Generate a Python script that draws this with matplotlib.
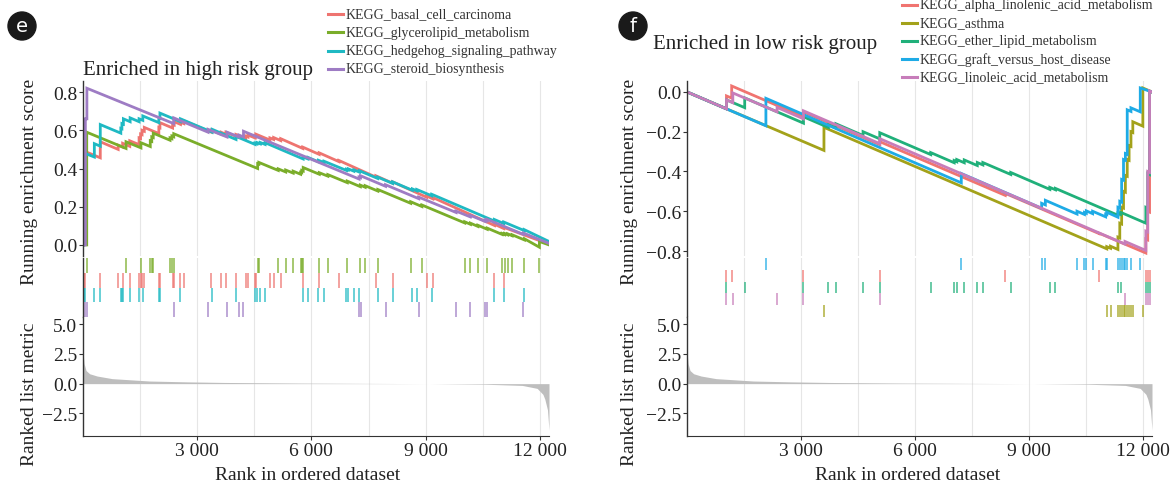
import numpy as np
import matplotlib
matplotlib.use("Agg")
import matplotlib.pyplot as plt
from matplotlib.lines import Line2D
from matplotlib.patches import Ellipse

plt.rcParams['font.family'] = ['Liberation Serif', 'DejaVu Serif']

W, H = 1175, 489
N_GENES = 12240

# ---------------- ranked list metric (shared gene ranking) ----------------
metric_rank = [0, 30, 80, 175, 370, 765, 1745, 2725, 3700, 5660, 7620, 9100,
               10560, 11540, 11930, 12080, 12130, 12200, 12240]
metric_val = [2.67, 1.67, 1.1, 0.83, 0.64, 0.42, 0.22, 0.15, 0.1, 0.05, 0.02, 0.0,
              -0.05, -0.15, -0.4, -0.9, -1.3, -2.2, -3.9]

# ---------------- panel e : high risk group ----------------
high_names = ["KEGG_basal_cell_carcinoma", "KEGG_glycerolipid_metabolism",
              "KEGG_hedgehog_signaling_pathway", "KEGG_steroid_biosynthesis"]
high_colors = ["#EE7470", "#7AAD2A", "#1FB9C3", "#9E7CC4"]

basal_hits = [20, 43, 454, 924, 1041, 1228, 1473, 1512, 1551, 1610, 1992, 2021, 2354, 2394,
              2560, 2648, 3373, 3628, 3755, 4019, 4274, 4333, 4519, 4538, 4910, 5008, 5194,
              5772, 6203, 6722, 7692, 8133, 9024, 9190, 10806, 11051]
basal_es_x = [0, 20, 20, 43, 43, 454, 454, 924, 924, 1041, 1041, 1228, 1228, 1473, 1473, 1512,
              1512, 1551, 1551, 1610, 1610, 1992, 1992, 2021, 2021, 2354, 2354, 2394, 2394,
              2560, 2560, 2648, 2648, 3373, 3373, 3628, 3628, 3755, 3755, 4019, 4019, 4274,
              4274, 4333, 4333, 4519, 4519, 4538, 4538, 4910, 4910, 5008, 5008, 5194, 5194,
              5772, 5772, 6203, 6203, 6722, 6722, 7692, 7692, 8133, 8133, 9024, 9024, 9190,
              9190, 10806, 10806, 11051, 11051, 12240]
basal_es_y = [0, 0, 0.25, 0.248, 0.49, 0.456, 0.54, 0.5, 0.522, 0.512, 0.532, 0.516, 0.545,
              0.525, 0.56, 0.557, 0.58, 0.577, 0.6, 0.595, 0.615, 0.583, 0.615, 0.613, 0.64,
              0.612, 0.63, 0.627, 0.645, 0.631, 0.642, 0.635, 0.65, 0.59, 0.6, 0.579, 0.59,
              0.579, 0.59, 0.568, 0.578, 0.557, 0.57, 0.565, 0.575, 0.56, 0.57, 0.568, 0.58,
              0.549, 0.56, 0.552, 0.562, 0.546, 0.556, 0.505, 0.512, 0.474, 0.482, 0.436,
              0.442, 0.355, 0.362, 0.323, 0.33, 0.25, 0.256, 0.241, 0.248, 0.102, 0.108,
              0.086, 0.092, 0.004]

glycero_hits = [98, 1130, 1522, 1767, 1806, 1845, 2286, 2335, 2384, 4588, 4618, 5128, 5324,
                5520, 5716, 5745, 5784, 6206, 6431, 6941, 7284, 7411, 7744, 8607, 8901, 10027,
                10175, 10371, 10616, 11008, 11076, 11155, 11272, 11596, 11988]
glycero_es_x = [0, 98, 98, 1130, 1130, 1522, 1522, 1767, 1767, 1806, 1806, 1845, 1845, 2286,
                2286, 2335, 2335, 2384, 2384, 4588, 4588, 4618, 4618, 5128, 5128, 5324, 5324,
                5520, 5520, 5716, 5716, 5745, 5745, 5784, 5784, 6206, 6206, 6431, 6431, 6941,
                6941, 7284, 7284, 7411, 7411, 7744, 7744, 8607, 8607, 8901, 8901, 10027, 10027,
                10175, 10175, 10371, 10371, 10616, 10616, 11008, 11008, 11076, 11076, 11155,
                11155, 11272, 11272, 11596, 11596, 11988, 11988, 12240]
glycero_es_y = [0, 0, 0.59, 0.505, 0.54, 0.508, 0.535, 0.515, 0.545, 0.542, 0.565, 0.562,
                0.585, 0.548, 0.56, 0.556, 0.57, 0.566, 0.582, 0.40, 0.425, 0.423, 0.432,
                0.39, 0.398, 0.382, 0.392, 0.376, 0.386, 0.37, 0.38, 0.378, 0.39, 0.387, 0.405,
                0.37, 0.378, 0.36, 0.368, 0.326, 0.334, 0.305, 0.313, 0.302, 0.31, 0.282, 0.29,
                0.218, 0.226, 0.201, 0.209, 0.115, 0.121, 0.108, 0.114, 0.097, 0.103, 0.082,
                0.088, 0.055, 0.06, 0.054, 0.06, 0.053, 0.058, 0.048, 0.053, 0.026, 0.032,
                -0.012, 0.018, 0.0]

hedgehog_hits = [20, 43, 298, 454, 993, 1022, 1061, 1238, 1473, 1571, 1992, 2021, 2560, 3393,
                 4019, 4519, 4568, 4656, 4783, 5782, 5910, 6184, 6331, 6918, 6967, 7114, 7261,
                 7741, 8133, 8652, 8769, 9161, 10806, 11051, 11590]
hedgehog_es_x = [0, 20, 20, 43, 43, 298, 298, 454, 454, 993, 993, 1022, 1022, 1061, 1061, 1238,
                 1238, 1473, 1473, 1571, 1571, 1992, 1992, 2021, 2021, 2560, 2560, 3393, 3393,
                 4019, 4019, 4519, 4519, 4568, 4568, 4656, 4656, 4783, 4783, 5782, 5782, 5910,
                 5910, 6184, 6184, 6331, 6331, 6918, 6918, 6967, 6967, 7114, 7114, 7261, 7261,
                 7741, 7741, 8133, 8133, 8652, 8652, 8769, 8769, 9161, 9161, 10806, 10806,
                 11051, 11051, 11590, 11590, 12240]
hedgehog_es_y = [0, 0, 0.32, 0.318, 0.48, 0.46, 0.53, 0.517, 0.63, 0.585, 0.61, 0.608, 0.635,
                 0.632, 0.66, 0.645, 0.665, 0.645, 0.66, 0.652, 0.675, 0.64, 0.665, 0.663, 0.69,
                 0.645, 0.66, 0.59, 0.605, 0.552, 0.568, 0.526, 0.533, 0.529, 0.536, 0.529,
                 0.536, 0.526, 0.535, 0.45, 0.46, 0.45, 0.458, 0.435, 0.443, 0.431, 0.438, 0.39,
                 0.396, 0.392, 0.398, 0.386, 0.393, 0.381, 0.388, 0.348, 0.355, 0.322, 0.33,
                 0.286, 0.293, 0.283, 0.29, 0.257, 0.265, 0.125, 0.133, 0.112, 0.12, 0.075,
                 0.08, 0.018]

steroid_hits = [62, 102, 2383, 3285, 3783, 4097, 4215, 7251, 7290, 7946, 8820, 9798, 10170,
                10563, 10610, 11570]
steroid_es_x = [0, 62, 62, 102, 102, 2383, 2383, 3285, 3285, 3783, 3783, 4097, 4097, 4215,
                4215, 7251, 7251, 7290, 7290, 7946, 7946, 8820, 8820, 9798, 9798, 10170, 10170,
                10563, 10563, 10610, 10610, 11570, 11570, 12240]
steroid_es_y = [0, 0, 0.66, 0.66, 0.82, 0.635, 0.665, 0.59, 0.605, 0.565, 0.59, 0.565, 0.575,
                0.565, 0.595, 0.345, 0.355, 0.352, 0.362, 0.307, 0.315, 0.242, 0.25, 0.17,
                0.177, 0.147, 0.155, 0.123, 0.13, 0.126, 0.134, 0.055, 0.062, 0.008]

# rug rows top -> bottom
high_rug_order = [1, 0, 2, 3]

# ---------------- panel f : low risk group ----------------
low_names = ["KEGG_alpha_linolenic_acid_metabolism", "KEGG_asthma",
             "KEGG_ether_lipid_metabolism", "KEGG_graft_versus_host_disease",
             "KEGG_linoleic_acid_metabolism"]
low_colors = ["#F07470", "#A3A21A", "#20B07A", "#1EABE6", "#C77DBA"]

alpha_hits = [1039, 1176, 3066, 5074, 8375, 10843, 12078, 12127, 12176]
alpha_es_x = [0, 1039, 1039, 1176, 1176, 3066, 3066, 5074, 5074, 8375, 8375, 10843, 10843,
              12078, 12078, 12127, 12127, 12176, 12176, 12240]
alpha_es_y = [0, -0.085, -0.02, -0.031, 0.03, -0.125, -0.1, -0.265, -0.25, -0.52, -0.51,
              -0.712, -0.71, -0.81, -0.74, -0.744, -0.6, -0.604, 0.0, 0.0]

asthma_hits = [3605, 11050, 11148, 11343, 11392, 11441, 11490, 11539, 11588, 11637, 11686,
               11735, 11999]
asthma_es_x = [0, 3605, 3605, 11050, 11050, 11148, 11148, 11343, 11343, 11392, 11392, 11441,
               11441, 11490, 11490, 11539, 11539, 11588, 11588, 11637, 11637, 11686, 11686,
               11735, 11735, 11999, 11999, 12240]
asthma_es_y = [0, -0.294, -0.178, -0.789, -0.778, -0.786, -0.776, -0.792, -0.73, -0.734,
               -0.66, -0.664, -0.58, -0.584, -0.5, -0.504, -0.42, -0.424, -0.34, -0.344,
               -0.27, -0.274, -0.2, -0.204, -0.15, -0.172, 0.02, 0.0]

ether_hits = [1039, 1519, 3066, 3723, 3919, 4634, 5074, 6416, 7033, 7102, 7298, 7641, 7788,
              8522, 9551, 9698, 11343, 11412, 12078, 12127, 12176]
ether_es_x = [0, 1039, 1039, 1519, 1519, 3066, 3066, 3723, 3723, 3919, 3919, 4634, 4634, 5074,
              5074, 6416, 6416, 7033, 7033, 7102, 7102, 7298, 7298, 7641, 7641, 7788, 7788,
              8522, 8522, 9551, 9551, 9698, 9698, 11343, 11343, 11412, 11412, 12078, 12078,
              12127, 12127, 12176, 12176, 12240]
ether_es_y = [0, -0.085, -0.04, -0.079, -0.03, -0.157, -0.125, -0.179, -0.165, -0.181, -0.16,
              -0.219, -0.2, -0.236, -0.205, -0.315, -0.305, -0.356, -0.345, -0.351, -0.34,
              -0.356, -0.342, -0.37, -0.355, -0.367, -0.355, -0.415, -0.405, -0.49, -0.48,
              -0.492, -0.485, -0.62, -0.61, -0.616, -0.605, -0.66, -0.58, -0.584, -0.41,
              -0.415, 0.0, 0.0]

graft_hits = [2077, 7220, 9335, 9433, 10266, 10462, 10511, 10677, 11020, 11050, 11343, 11392,
              11441, 11490, 11539, 11588, 11686, 11931]
graft_es_x = [0, 2077, 2077, 7220, 7220, 9335, 9335, 9433, 9433, 10266, 10266, 10462, 10462,
              10511, 10511, 10677, 10677, 11020, 11020, 11050, 11050, 11343, 11343, 11392,
              11392, 11441, 11441, 11490, 11490, 11539, 11539, 11588, 11588, 11686, 11686,
              11931, 11931, 12240]
graft_es_y = [0, -0.17, -0.032, -0.457, -0.41, -0.585, -0.56, -0.568, -0.545, -0.614, -0.6,
              -0.616, -0.606, -0.61, -0.598, -0.612, -0.6, -0.628, -0.615, -0.617, -0.605,
              -0.63, -0.58, -0.584, -0.55, -0.554, -0.44, -0.444, -0.34, -0.344, -0.31,
              -0.314, -0.09, -0.098, -0.08, -0.1, 0.02, 0.0]

linoleic_hits = [1039, 1206, 2371, 3066, 5074, 11530, 12078, 12127, 12176]
linoleic_es_x = [0, 1039, 1039, 1206, 1206, 2371, 2371, 3066, 3066, 5074, 5074, 11530, 11530,
                 12078, 12078, 12127, 12127, 12176, 12176, 12240]
linoleic_es_y = [0, -0.085, -0.04, -0.054, -0.005, -0.1, -0.078, -0.135, -0.095, -0.26,
                 -0.235, -0.765, -0.752, -0.797, -0.7, -0.704, -0.4, -0.404, 0.005, 0.0]

low_rug_order = [3, 0, 2, 4, 1]

xticks = [3000, 6000, 9000, 12000]
xtick_labels = ["3 000", "6 000", "9 000", "12 000"]
grid_x = [1500, 3000, 4500, 6000, 7500, 9000, 10500, 12000]

fig = plt.figure(figsize=(W / 100, H / 100), dpi=100)


def px_axes(l, t, r, b):
    return fig.add_axes([l / W, 1 - b / H, (r - l) / W, (b - t) / H])


def style(ax):
    for s in ["top", "right", "bottom"]:
        ax.spines[s].set_visible(False)
    ax.spines["left"].set_color("#333333")
    ax.spines["left"].set_linewidth(1.0)
    ax.tick_params(axis="both", length=3, width=0.8, colors="#333333", labelsize=14,
                   labelcolor="#222222", pad=1)
    for g in grid_x:
        ax.axvline(g, color="#E6E6E6", lw=0.8, zorder=0)
    ax.set_xlim(0, N_GENES)
    ax.set_xticks([])


def draw_panel(left, right, es_curves, hits, colors, rug_order, es_ylim, es_ticks,
               es_labels, rank_ylim):
    ax1 = px_axes(left, 82, right, 257)
    style(ax1)
    for (x, y), c in zip(es_curves, colors):
        ax1.plot(x, y, color=c, lw=2.0, solid_joinstyle="miter")
    ax1.set_ylim(*es_ylim)
    ax1.set_yticks(es_ticks)
    ax1.set_yticklabels(es_labels)

    ax2 = px_axes(left, 259, right, 318)
    style(ax2)
    n = len(rug_order)
    for row, k in enumerate(rug_order):
        ax2.vlines(hits[k], n - row - 1, n - row, color=colors[k], lw=1.1, alpha=0.85)
    ax2.set_ylim(0, n)
    ax2.set_yticks([])

    ax3 = px_axes(left, 318, right, 437)
    style(ax3)
    ax3.spines["bottom"].set_visible(True)
    ax3.spines["bottom"].set_color("#333333")
    ax3.fill_between(metric_rank, 0, metric_val, color="#BEBEBE", lw=0)
    ax3.set_ylim(*rank_ylim)
    ax3.set_yticks([-2.5, 0.0, 2.5, 5.0])
    ax3.set_yticklabels(["\u22122.5", "0.0", "2.5", "5.0"])
    ax3.set_xticks(xticks)
    ax3.set_xticklabels(xtick_labels)
    return ax1, ax2, ax3


high_curves = [(basal_es_x, basal_es_y), (glycero_es_x, glycero_es_y),
               (hedgehog_es_x, hedgehog_es_y), (steroid_es_x, steroid_es_y)]
high_hits = [basal_hits, glycero_hits, hedgehog_hits, steroid_hits]
draw_panel(83, 549, high_curves, high_hits, high_colors, high_rug_order,
           (-0.058, 0.858), [0.0, 0.2, 0.4, 0.6, 0.8],
           ["0.0", "0.2", "0.4", "0.6", "0.8"], (-4.4, 5.6))

low_curves = [(alpha_es_x, alpha_es_y), (asthma_es_x, asthma_es_y),
              (ether_es_x, ether_es_y), (graft_es_x, graft_es_y),
              (linoleic_es_x, linoleic_es_y)]
low_hits = [alpha_hits, asthma_hits, ether_hits, graft_hits, linoleic_hits]
draw_panel(687, 1152, low_curves, low_hits, low_colors, low_rug_order,
           (-0.825, 0.055), [-0.8, -0.6, -0.4, -0.2, 0.0],
           ["\u22120.8", "\u22120.6", "\u22120.4", "\u22120.2", "0.0"], (-4.4, 5.6))

# titles, axis labels
fig.text(83 / W, 1 - 70 / H, "Enriched in high risk group", fontsize=15, va="center",
         color="#222222")
fig.text(653 / W, 1 - 45 / H, "Enriched in low risk group", fontsize=15, va="center",
         color="#222222")
for xc in [29, 630]:
    fig.text(xc / W, 1 - 182 / H, "Running enrichment score", rotation=90, fontsize=14,
             ha="center", va="center", color="#222222")
    fig.text(xc / W, 1 - 394 / H, "Ranked list metric", rotation=90, fontsize=14,
             ha="center", va="center", color="#222222")
for xc in [308, 908]:
    fig.text(xc / W, 1 - 476 / H, "Rank in ordered dataset", fontsize=14, ha="center",
             va="center", color="#222222")

# legends
def legend(x0, y0, dy, names, colors):
    for i, (nm, c) in enumerate(zip(names, colors)):
        y = 1 - (y0 + i * dy) / H
        fig.add_artist(Line2D([x0 / W, (x0 + 15) / W], [y, y], color=c, lw=2.2,
                              transform=fig.transFigure))
        fig.text((x0 + 18) / W, y, nm, fontsize=10, va="center", color="#333333")


legend(328, 15, 18.3, high_names, high_colors)
legend(902, 6, 18, low_names, low_colors)

# panel letters
for cx, letter in [(22, "e"), (633, "f")]:
    fig.add_artist(Ellipse((cx / W, 1 - 27 / H), 28 / W, 28 / H, color="#1A1A1A",
                           transform=fig.transFigure))
    fig.text(cx / W, 1 - 27 / H, letter, color="white", fontsize=14, ha="center",
             va="center", family="DejaVu Sans")

fig.savefig("out.png", dpi=100)
